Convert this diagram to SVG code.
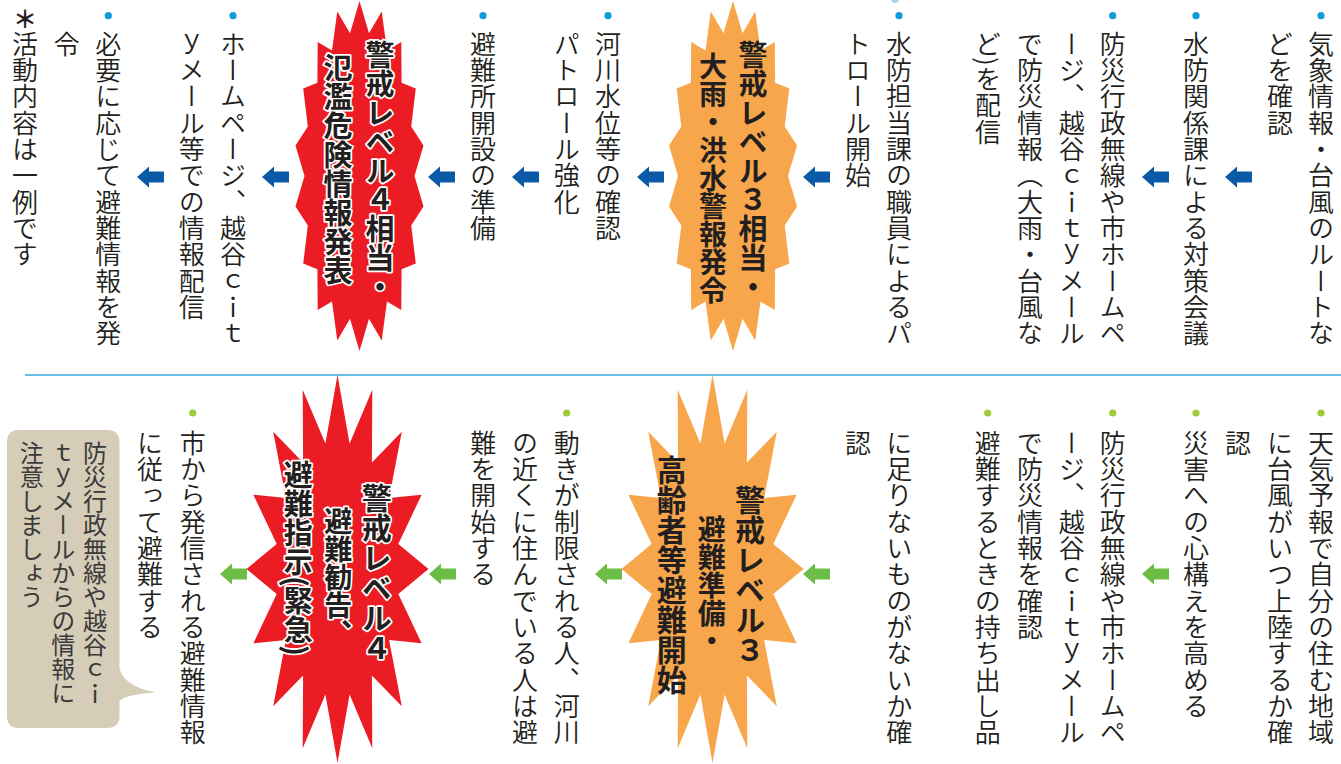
<svg xmlns="http://www.w3.org/2000/svg" xmlns:xlink="http://www.w3.org/1999/xlink" width="1341" height="764" viewBox="0 0 1341 764">
<style>
.b{font-family:"Noto Sans CJK JP","Noto Sans CJK SC",sans-serif;font-size:26px;font-weight:350;fill:#231f20;writing-mode:vertical-rl;letter-spacing:0.3px}
.h{font-family:"Noto Sans CJK JP","Noto Sans CJK SC",sans-serif;font-size:29px;font-weight:700;fill:#231f20;writing-mode:vertical-rl}
.hw{paint-order:stroke;stroke:#ffffff;stroke-width:3.5px;stroke-linejoin:round}
.bu{font-family:"Noto Sans CJK JP","Noto Sans CJK SC",sans-serif;font-size:24px;font-weight:400;fill:#3a3a3a;writing-mode:vertical-rl}
.db{fill:#0f9ad8}
.dg{fill:#9ccb3b}
.ab{fill:#0a5aa8}
.ag{fill:#6cbd45}
.or{fill:#f7a64b}
.rd{fill:#ec1c24}
</style>
<defs>
<polygon id="burstT" points="0,-175 9.5,-142.8 22.2,-164.4 27.5,-125.6 41.8,-134.1 42.1,-93.2 56.3,-87.5 51.7,-49.6 64,-30.4 55,0 64,30.4 51.7,49.6 56.3,87.5 42.1,93.2 41.8,134.1 27.5,125.6 22.2,164.4 9.5,142.8 0,175 -9.5,142.8 -22.2,164.4 -27.5,125.6 -41.8,134.1 -42.1,93.2 -56.3,87.5 -51.7,49.6 -64,30.4 -55,0 -64,-30.4 -51.7,-49.6 -56.3,-87.5 -42.1,-93.2 -41.8,-134.1 -27.5,-125.6 -22.2,-164.4 -9.5,-142.8"/>
<polygon id="burstB" points="0,-194 12.1,-125.5 34.8,-179.2 34.4,-106.4 64.3,-137.2 51.6,-71.1 84.1,-74.2 60.8,-25 91,0 60.8,25 84.1,74.2 51.6,71.1 64.3,137.2 34.4,106.4 34.8,179.2 12.1,125.5 0,194 -12.1,125.5 -34.8,179.2 -34.4,106.4 -64.3,137.2 -51.6,71.1 -84.1,74.2 -60.8,25 -91,0 -60.8,-25 -84.1,-74.2 -51.6,-71.1 -64.3,-137.2 -34.4,-106.4 -34.8,-179.2 -12.1,-125.5"/>
<polygon id="arrow" points="0,0 12,-10.5 12,-5.5 27,-5.5 27,5.5 12,5.5 12,10.5"/>
</defs>
<rect width="1341" height="764" fill="#ffffff"/>
<line x1="25" y1="375" x2="1341" y2="375" stroke="#3fa9dc" stroke-width="1.5"/>

<g id="connectors">
<use xlink:href="#arrow" href="#arrow" class="ab" x="1225" y="177"/>
<use xlink:href="#arrow" href="#arrow" class="ab" x="1142" y="177"/>
<use xlink:href="#arrow" href="#arrow" class="ab" x="803" y="177"/>
<use xlink:href="#arrow" href="#arrow" class="ab" x="637" y="177"/>
<use xlink:href="#arrow" href="#arrow" class="ab" x="512" y="177"/>
<use xlink:href="#arrow" href="#arrow" class="ab" x="428" y="177"/>
<use xlink:href="#arrow" href="#arrow" class="ab" x="262" y="177"/>
<use xlink:href="#arrow" href="#arrow" class="ab" x="137" y="177"/>
<use xlink:href="#arrow" href="#arrow" class="ag" x="1142" y="574"/>
<use xlink:href="#arrow" href="#arrow" class="ag" x="803" y="574"/>
<use xlink:href="#arrow" href="#arrow" class="ag" x="595" y="574"/>
<use xlink:href="#arrow" href="#arrow" class="ag" x="429" y="574"/>
<use xlink:href="#arrow" href="#arrow" class="ag" x="220" y="574"/>
</g>

<circle cx="895" cy="-1" r="4" fill="#a9d5f0"/>

<!-- top row -->
<g id="t1">
<circle class="db" cx="1321" cy="15.7" r="3.6"/>
<text class="b" x="1321" y="31">気象情報・台風のルートな</text>
<text class="b" x="1280" y="31">どを確認</text>
</g>
<g id="t2">
<circle class="db" cx="1196" cy="15.7" r="3.6"/>
<text class="b" x="1196" y="31">水防関係課による対策会議</text>
</g>
<g id="t3">
<circle class="db" cx="1112.7" cy="15.7" r="3.6"/>
<text class="b" x="1112.7" y="31">防災行政無線や市ホームペ</text>
<text class="b" x="1071.7" y="31">ージ、越谷ｃｉｔｙメール</text>
<text class="b" x="1030" y="31">で防災情報（大雨・台風な</text>
<text class="b" x="988" y="31">ど)を配信</text>
</g>
<g id="t4">
<circle class="db" cx="899" cy="15.7" r="3.6"/>
<text class="b" x="899" y="31">水防担当課の職員によるパ</text>
<text class="b" x="858" y="31">トロール開始</text>
</g>
<g id="level3a">
<use xlink:href="#burstT" href="#burstT" class="or" x="733" y="176"/>
<text class="h" x="753" y="40">警戒レベル３相当・</text>
<text class="h" x="713" y="52" style="font-size:28px">大雨・洪水警報発令</text>
</g>
<g id="t5">
<circle class="db" cx="608" cy="15.7" r="3.6"/>
<text class="b" x="608" y="31">河川水位等の確認</text>
<text class="b" x="566.7" y="31">パトロール強化</text>
</g>
<g id="t6">
<circle class="db" cx="483" cy="15.7" r="3.6"/>
<text class="b" x="483" y="31">避難所開設の準備</text>
</g>
<g id="level4a">
<use xlink:href="#burstT" href="#burstT" class="rd" x="359.5" y="176"/>
<text class="h hw" x="380" y="40">警戒レベル４相当・</text>
<text class="h hw" x="338" y="53">氾濫危険情報発表</text>
</g>
<g id="t7">
<circle class="db" cx="233" cy="15.7" r="3.6"/>
<text class="b" x="233" y="31">ホームページ、越谷ｃｉｔ</text>
<text class="b" x="191.7" y="31">ｙメール等での情報配信</text>
</g>
<g id="t8">
<circle class="db" cx="108.3" cy="15.7" r="3.6"/>
<text class="b" x="108.3" y="31">必要に応じて避難情報を発</text>
<text class="b" x="66.7" y="31">令</text>
</g>
<g id="note">
<text x="25" y="28" text-anchor="middle" style="font-family:'Noto Sans CJK JP',sans-serif;font-size:24px;font-weight:700;fill:#231f20">＊</text>
<text class="b" x="25" y="31">活動内容は一例です</text>
</g>

<!-- bottom row -->
<g id="b1">
<circle class="dg" cx="1321" cy="413" r="3.6"/>
<text class="b" x="1321" y="430">天気予報で自分の住む地域</text>
<text class="b" x="1280" y="430">に台風がいつ上陸するか確</text>
<text class="b" x="1238" y="430">認</text>
</g>
<g id="b2">
<circle class="dg" cx="1196" cy="413" r="3.6"/>
<text class="b" x="1196" y="430">災害への心構えを高める</text>
</g>
<g id="b3">
<circle class="dg" cx="1112.7" cy="413" r="3.6"/>
<text class="b" x="1112.7" y="430">防災行政無線や市ホームペ</text>
<text class="b" x="1071.7" y="430">ージ、越谷ｃｉｔｙメール</text>
<text class="b" x="1030" y="430">で防災情報を確認</text>
</g>
<g id="b4">
<circle class="dg" cx="987.7" cy="413" r="3.6"/>
<text class="b" x="987.7" y="430">避難するときの持ち出し品</text>
<text class="b" x="899.3" y="430">に足りないものがないか確</text>
<text class="b" x="858" y="430">認</text>
</g>
<g id="level3b">
<use xlink:href="#burstB" href="#burstB" class="or" x="712.5" y="569"/>
<text class="h" x="750" y="485" style="font-size:30px">警戒レベル３</text>
<text class="h" x="711.7" y="515" style="font-size:28px">避難準備・</text>
<text class="h" x="671.7" y="455" style="font-size:30px">高齢者等避難開始</text>
</g>
<g id="b5">
<circle class="dg" cx="566.7" cy="413" r="3.6"/>
<text class="b" x="566.7" y="430">動きが制限される人、河川</text>
<text class="b" x="525" y="430">の近くに住んでいる人は避</text>
<text class="b" x="483.3" y="430">難を開始する</text>
</g>
<g id="level4b">
<use xlink:href="#burstB" href="#burstB" class="rd" x="337.5" y="569"/>
<text class="h hw" x="376.7" y="483" style="font-size:30px">警戒レベル４</text>
<text class="h hw" x="338.3" y="507" style="font-size:28px">避難勧告、</text>
<text class="h hw" x="298.3" y="460" style="font-size:29px">避難指示(緊急)</text>
</g>
<g id="b6">
<circle class="dg" cx="192.7" cy="413" r="3.6"/>
<text class="b" x="192.7" y="430">市から発信される避難情報</text>
<text class="b" x="150" y="430">に従って避難する</text>
</g>
<g id="bubble">
<path d="M19,430 H107 Q119.5,430 119.5,442 V668 Q123,686 156,692.5 Q127,694 119.5,701 V716 Q119.5,728 107,728 H19 Q7,728 7,716 V442 Q7,430 19,430 Z" fill="#d6cdb8"/>
<text class="bu" x="95" y="441">防災行政無線や越谷ｃｉ</text>
<text class="bu" x="63.3" y="441">ｔｙメールからの情報に</text>
<text class="bu" x="31.7" y="441">注意しましょう</text>
</g>
</svg>
